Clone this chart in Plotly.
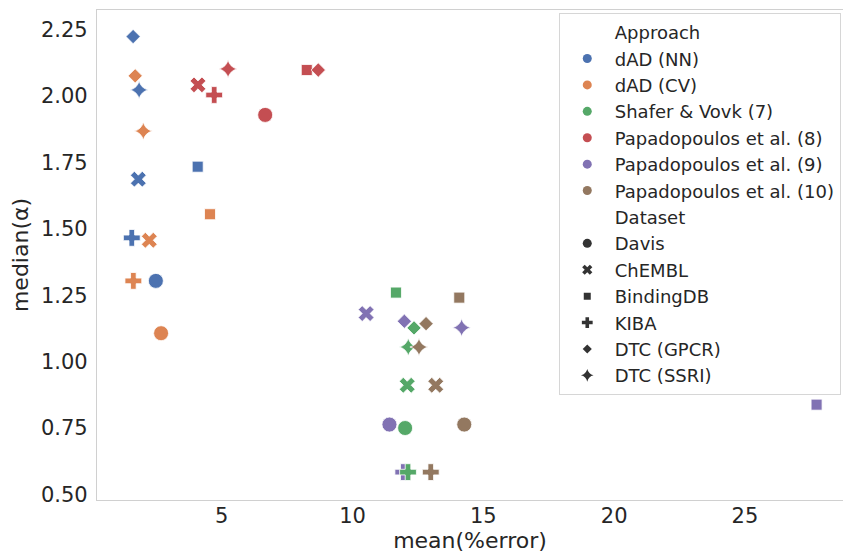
import plotly.graph_objects as go

approaches = ["dAD (NN)", "dAD (CV)", "Shafer & Vovk (7)", "Papadopoulos et al. (8)",
              "Papadopoulos et al. (9)", "Papadopoulos et al. (10)"]
colors = ["#4c72b0", "#dd8452", "#55a868", "#c44e52", "#8172b3", "#937860"]
datasets = ["Davis", "ChEMBL", "BindingDB", "KIBA", "DTC (GPCR)", "DTC (SSRI)"]
symbols = ["circle", "x", "square", "cross", "diamond", "star-diamond"]
sizes = [15, 14, 11, 14, 11, 13]

# values per approach, in dataset order: Davis, ChEMBL, BindingDB, KIBA, DTC (GPCR), DTC (SSRI)
mean_err = {
    "dAD (NN)":                 [2.48, 1.81, 4.08, 1.56, 1.61, 1.84],
    "dAD (CV)":                 [2.68, 2.23, 4.55, 1.62, 1.69, 2.00],
    "Shafer & Vovk (7)":        [12.01, 12.09, 11.66, 12.12, 12.35, 12.13],
    "Papadopoulos et al. (8)":  [6.66, 4.09, 8.25, 4.71, 8.69, 5.24],
    "Papadopoulos et al. (9)":  [11.41, 10.52, 27.74, 11.94, 11.98, 14.17],
    "Papadopoulos et al. (10)": [14.27, 13.18, 14.08, 12.99, 12.81, 12.54],
}
median_alpha = {
    "dAD (NN)":                 [1.304, 1.687, 1.734, 1.466, 2.224, 2.023],
    "dAD (CV)":                 [1.107, 1.457, 1.555, 1.304, 2.076, 1.868],
    "Shafer & Vovk (7)":        [0.750, 0.911, 1.260, 0.584, 1.127, 1.055],
    "Papadopoulos et al. (8)":  [1.929, 2.042, 2.098, 2.004, 2.098, 2.102],
    "Papadopoulos et al. (9)":  [0.763, 1.181, 0.838, 0.584, 1.152, 1.128],
    "Papadopoulos et al. (10)": [0.763, 0.911, 1.241, 0.584, 1.143, 1.055],
}

FONT = "DejaVu Sans"
TXT = "#262626"

fig = go.Figure()

draw_order = [0, 1, 4, 2, 3, 5]
for ai in draw_order:
    a = approaches[ai]
    fig.add_trace(go.Scatter(
        x=mean_err[a], y=median_alpha[a], mode="markers", showlegend=False,
        marker=dict(color=colors[ai], symbol=symbols, size=sizes, opacity=1,
                    line=dict(color="white", width=0.8)),
        hoverinfo="x+y+name", name=a))

def legend_entry(name, color, symbol, size, visible_marker=True):
    fig.add_trace(go.Scatter(
        x=[None], y=[None], mode="markers", name=name, legendgroup=name,
        marker=dict(color=color if visible_marker else "rgba(0,0,0,0)",
                    symbol=symbol, size=size, opacity=1, line=dict(width=0))))

legend_entry("Approach", "white", "circle", 9, False)
for a, c in zip(approaches, colors):
    legend_entry(a, c, "circle", 9)
legend_entry("Dataset", "white", "circle", 9, False)
leg_sizes = [9, 9, 7, 9, 7, 9]
for d, s, sz in zip(datasets, symbols, leg_sizes):
    legend_entry(d, "#333333", s, sz)

fig.update_layout(
    width=843, height=555,
    margin=dict(l=97, r=0, t=10, b=55, autoexpand=False),
    plot_bgcolor="white", paper_bgcolor="white",
    font=dict(family=FONT, color=TXT, size=20),
    xaxis=dict(range=[0.23, 28.75], tickvals=[5, 10, 15, 20, 25],
               showgrid=False, zeroline=False, showline=True, mirror=True,
               linecolor="#d0d0d0", linewidth=1.3, ticks="", automargin=False,
               tickfont=dict(size=21, color=TXT), ticklabelstandoff=-3,
               title=dict(text="mean(%error)", font=dict(size=22, color=TXT), standoff=1)),
    yaxis=dict(range=[0.479, 2.324], tickvals=[0.5, 0.75, 1.0, 1.25, 1.5, 1.75, 2.0, 2.25],
               ticktext=["0.50", "0.75", "1.00", "1.25", "1.50", "1.75", "2.00", "2.25"],
               showgrid=False, zeroline=False, showline=True, mirror=True,
               linecolor="#d0d0d0", linewidth=1.3, ticks="", automargin=False,
               tickfont=dict(size=21, color=TXT), ticklabelstandoff=4,
               title=dict(text="median(α)", font=dict(size=22, color=TXT), standoff=6)),
    legend=dict(x=0.997, y=0.994, xanchor="right", yanchor="top",
                bgcolor="white", bordercolor="#d6d6d6", borderwidth=1,
                font=dict(size=18, color=TXT), itemsizing="trace", itemwidth=45,
                tracegroupgap=0, itemclick=False),
)

fig.write_html("out.html", config={"displayModeBar": False},
               post_script="document.body.style.margin='0';")
